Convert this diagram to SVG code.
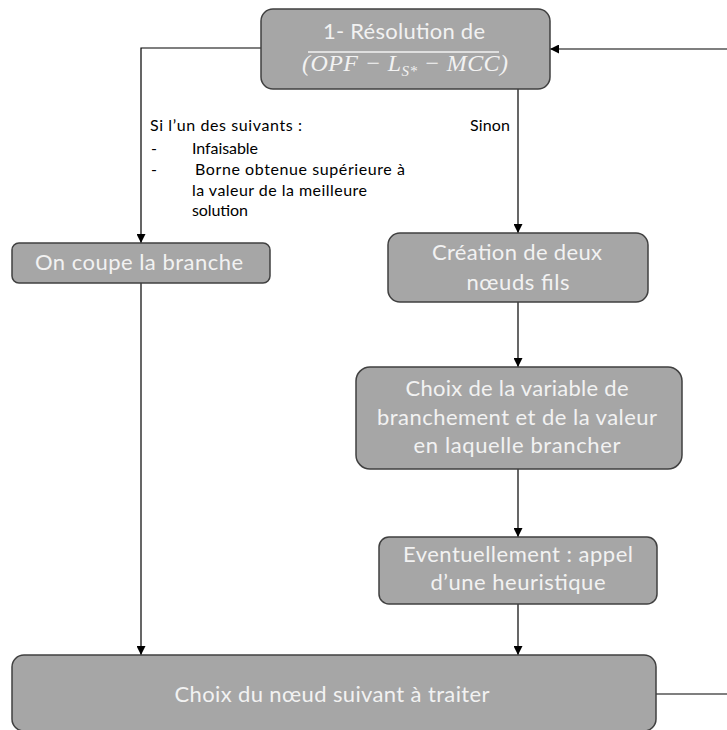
<svg xmlns="http://www.w3.org/2000/svg" width="727" height="730" viewBox="0 0 727 730">
<style>
.box{fill:#a6a6a6;stroke:#404040;stroke-width:1.5}
.t{font-family:Lato,"Liberation Sans",sans-serif;font-size:22px;fill:#f2f2f2;text-anchor:middle}
.lbl{font-family:Lato,"Liberation Sans",sans-serif;font-size:16px;fill:#000}
.ln{fill:none;stroke:#000;stroke-width:1.2}
</style>
<defs>
<marker id="ah" viewBox="0 0 10 10" refX="10" refY="5" markerWidth="9" markerHeight="9" markerUnits="userSpaceOnUse" orient="auto">
<path d="M0,0 L10,5 L0,10 z" fill="#000"/>
</marker>
</defs>
<rect width="727" height="730" fill="#fff"/>
<g id="connectors">
<path class="ln" d="M261,48 H141 V243" marker-end="url(#ah)"/>
<path class="ln" d="M518,89 V233" marker-end="url(#ah)"/>
<path class="ln" d="M518,302 V367" marker-end="url(#ah)"/>
<path class="ln" d="M518,469 V537" marker-end="url(#ah)"/>
<path class="ln" d="M518,604 V655" marker-end="url(#ah)"/>
<path class="ln" d="M141,283 V655" marker-end="url(#ah)"/>
<path class="ln" d="M727,49 H550" marker-end="url(#ah)"/>
<path class="ln" d="M656,694 H727"/>
<text class="lbl" x="470" y="131" textLength="40">Sinon</text>
<text class="lbl" x="150" y="131" textLength="152">Si l’un des suivants :</text>
<text class="lbl" x="151" y="154">-</text>
<text class="lbl" x="192" y="154" textLength="66">Infaisable</text>
<text class="lbl" x="151" y="175">-</text>
<text class="lbl" x="195" y="175" textLength="210">Borne obtenue supérieure à</text>
<text class="lbl" x="192" y="196" textLength="175">la valeur de la meilleure</text>
<text class="lbl" x="192" y="216" textLength="56">solution</text>
</g>
<g id="n1">
<rect class="box" x="261" y="9" width="289" height="80" rx="12"/>
<text class="t" x="404" y="39" textLength="162">1- Résolution de</text>
<line x1="308" y1="52" x2="499" y2="52" stroke="#f2f2f2" stroke-width="1.5"/>
<text x="405" y="71" text-anchor="middle" textLength="206" font-family="'Liberation Serif',serif" font-style="italic" font-size="24" fill="#f2f2f2">(OPF − L<tspan font-size="15" dy="5">S*</tspan><tspan dy="-5"> − MCC)</tspan></text>
</g>
<g id="n2">
<rect class="box" x="12" y="243" width="258" height="40" rx="7"/>
<text class="t" x="139" y="270" textLength="208">On coupe la branche</text>
</g>
<g id="n3">
<rect class="box" x="388" y="233" width="260" height="69" rx="12"/>
<text class="t" x="517" y="260" textLength="170">Création de deux</text>
<text class="t" x="518" y="290" textLength="103">nœuds fils</text>
</g>
<g id="n4">
<rect class="box" x="356" y="367" width="326" height="102" rx="14"/>
<text class="t" x="517" y="396" textLength="223">Choix de la variable de</text>
<text class="t" x="517" y="425" textLength="280">branchement et de la valeur</text>
<text class="t" x="517" y="453" textLength="207">en laquelle brancher</text>
</g>
<g id="n5">
<rect class="box" x="379" y="537" width="278" height="67" rx="10"/>
<text class="t" x="518" y="562" textLength="230">Eventuellement : appel</text>
<text class="t" x="518" y="590" textLength="175">d’une heuristique</text>
</g>
<g id="n6">
<rect class="box" x="12" y="655" width="644" height="76" rx="12"/>
<text class="t" x="332" y="702" textLength="315">Choix du nœud suivant à traiter</text>
</g>
</svg>
